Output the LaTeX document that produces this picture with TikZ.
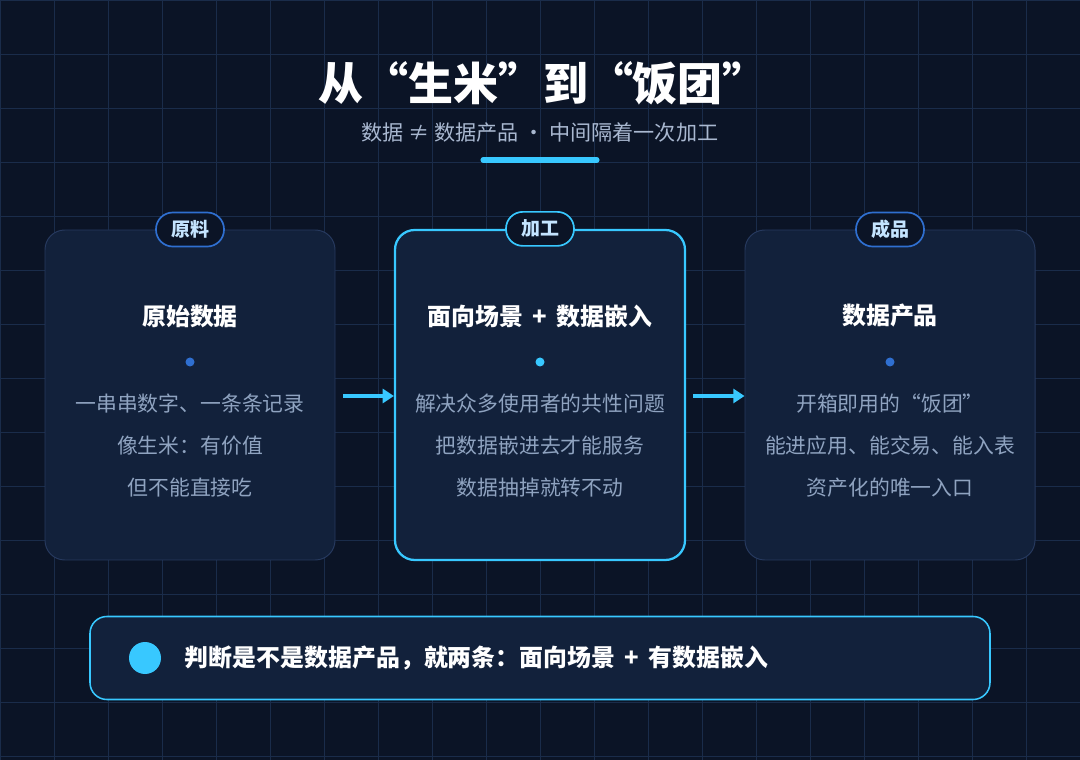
\documentclass[tikz,border=0pt]{standalone}
\usepackage{fontspec}
\setmainfont{Noto Sans CJK SC}
\usetikzlibrary{arrows.meta,positioning}
\definecolor{bgnavy}{HTML}{0B1426}
\definecolor{gridline}{HTML}{1A2C4A}
\definecolor{cardfill}{HTML}{12213B}
\definecolor{cardedge}{HTML}{26395E}
\definecolor{accent}{HTML}{38C8FF}
\definecolor{badgeblue}{HTML}{2F6FD0}
\definecolor{badgetext}{HTML}{C4E4FF}
\definecolor{bodytext}{HTML}{8FA3C0}
\definecolor{subtext}{HTML}{A9B8D0}
\tikzset{
  card/.style={draw=cardedge, line width=0.7pt, fill=cardfill, rounded corners=14pt,
               minimum width=290*0.025cm, minimum height=330*0.025cm},
  hotcard/.style={card, draw=accent, line width=1.6pt},
  badge/.style={draw=badgeblue, line width=1.2pt, fill=bgnavy, rounded corners=11.9pt,
                minimum width=68*0.025cm, minimum height=34*0.025cm, inner sep=0pt,
                font=\fontsize{13.5}{16}\selectfont\bfseries, text=badgetext},
  hotbadge/.style={badge, draw=accent},
  cardtitle/.style={font=\fontsize{17}{20}\selectfont\bfseries, text=white},
  bodyline/.style={font=\fontsize{14.8}{18}\selectfont, text=bodytext},
  flow/.style={accent, line width=2.2pt, -{Triangle[length=8pt,width=10pt]}}
}
\begin{document}
\begin{tikzpicture}[x=0.025cm,y=-0.025cm]
  % background and grid
  \fill[bgnavy] (0,0) rectangle (1080,760);
  \useasboundingbox (0,0) rectangle (1080,760);
  \foreach \gx in {0,54,...,1080} \draw[gridline, line width=0.6pt] (\gx,0) -- (\gx,760);
  \foreach \gy in {0,54,...,760} \draw[gridline, line width=0.6pt] (0,\gy) -- (1080,\gy);

  % heading
  \node[font=\fontsize{32}{36}\selectfont\bfseries, text=white] (title) at (543,83) {从“生米”到“饭团”};
  \node[font=\fontsize{15}{18}\selectfont, text=subtext] (subtitle) at (540,133) {数据 ≠ 数据产品 · 中间隔着一次加工};
  \coordinate (ulL) at (483,160);
  \coordinate (ulR) at (597,160);
  \draw[accent, line width=3.6pt, line cap=round] (ulL) -- (ulR);

  % cards
  \node[card] (raw) at (190,395) {};
  \node[hotcard] (work) at (540,395) {};
  \node[card] (prod) at (890,395) {};

  \node[badge] (rawtag) at (raw.north) {原料};
  \node[hotbadge] (worktag) at (work.north) {加工};
  \node[badge] (prodtag) at (prod.north) {成品};

  \node[cardtitle] (rawhead) at (190,316) {原始数据};
  \node[cardtitle] (workhead) at (540,316) {面向场景 \,+\, 数据嵌入};
  \node[cardtitle] (prodhead) at (890,316) {数据产品};

  \fill[badgeblue] (190,362) circle (4.5);
  \fill[accent] (540,362) circle (4.5);
  \fill[badgeblue] (890,362) circle (4.5);

  \node[bodyline] (raw1) at (190,404) {一串串数字、一条条记录};
  \node[bodyline] (raw2) at (190,446) {像生米：有价值};
  \node[bodyline] (raw3) at (190,488) {但不能直接吃};
  \node[bodyline] (work1) at (540,404) {解决众多使用者的共性问题};
  \node[bodyline] (work2) at (540,446) {把数据嵌进去才能服务};
  \node[bodyline] (work3) at (540,488) {数据抽掉就转不动};
  \node[bodyline] (prod1) at (890,404) {开箱即用的“饭团”};
  \node[bodyline] (prod2) at (890,446) {能进应用、能交易、能入表};
  \node[bodyline] (prod3) at (890,488) {资产化的唯一入口};

  % flow arrows
  \coordinate (a1) at (343,396);
  \coordinate (a2) at (693,396);
  \draw[flow] (a1) -- (a1 -| work.west);
  \draw[flow] (a2) -- (a2 -| prod.west);

  % verdict bar
  \node[draw=accent, line width=1.1pt, fill=cardfill, rounded corners=12pt,
        minimum width=900*0.025cm, minimum height=83*0.025cm] (verdict) at (540,658) {};
  \fill[accent] (145,658) circle (16);
  \node[anchor=west, font=\fontsize{17}{20}\selectfont\bfseries, text=white] (verdicttext) at (180,658)
    {判断是不是数据产品，就两条：面向场景 \,+\, 有数据嵌入};
\end{tikzpicture}
\end{document}
